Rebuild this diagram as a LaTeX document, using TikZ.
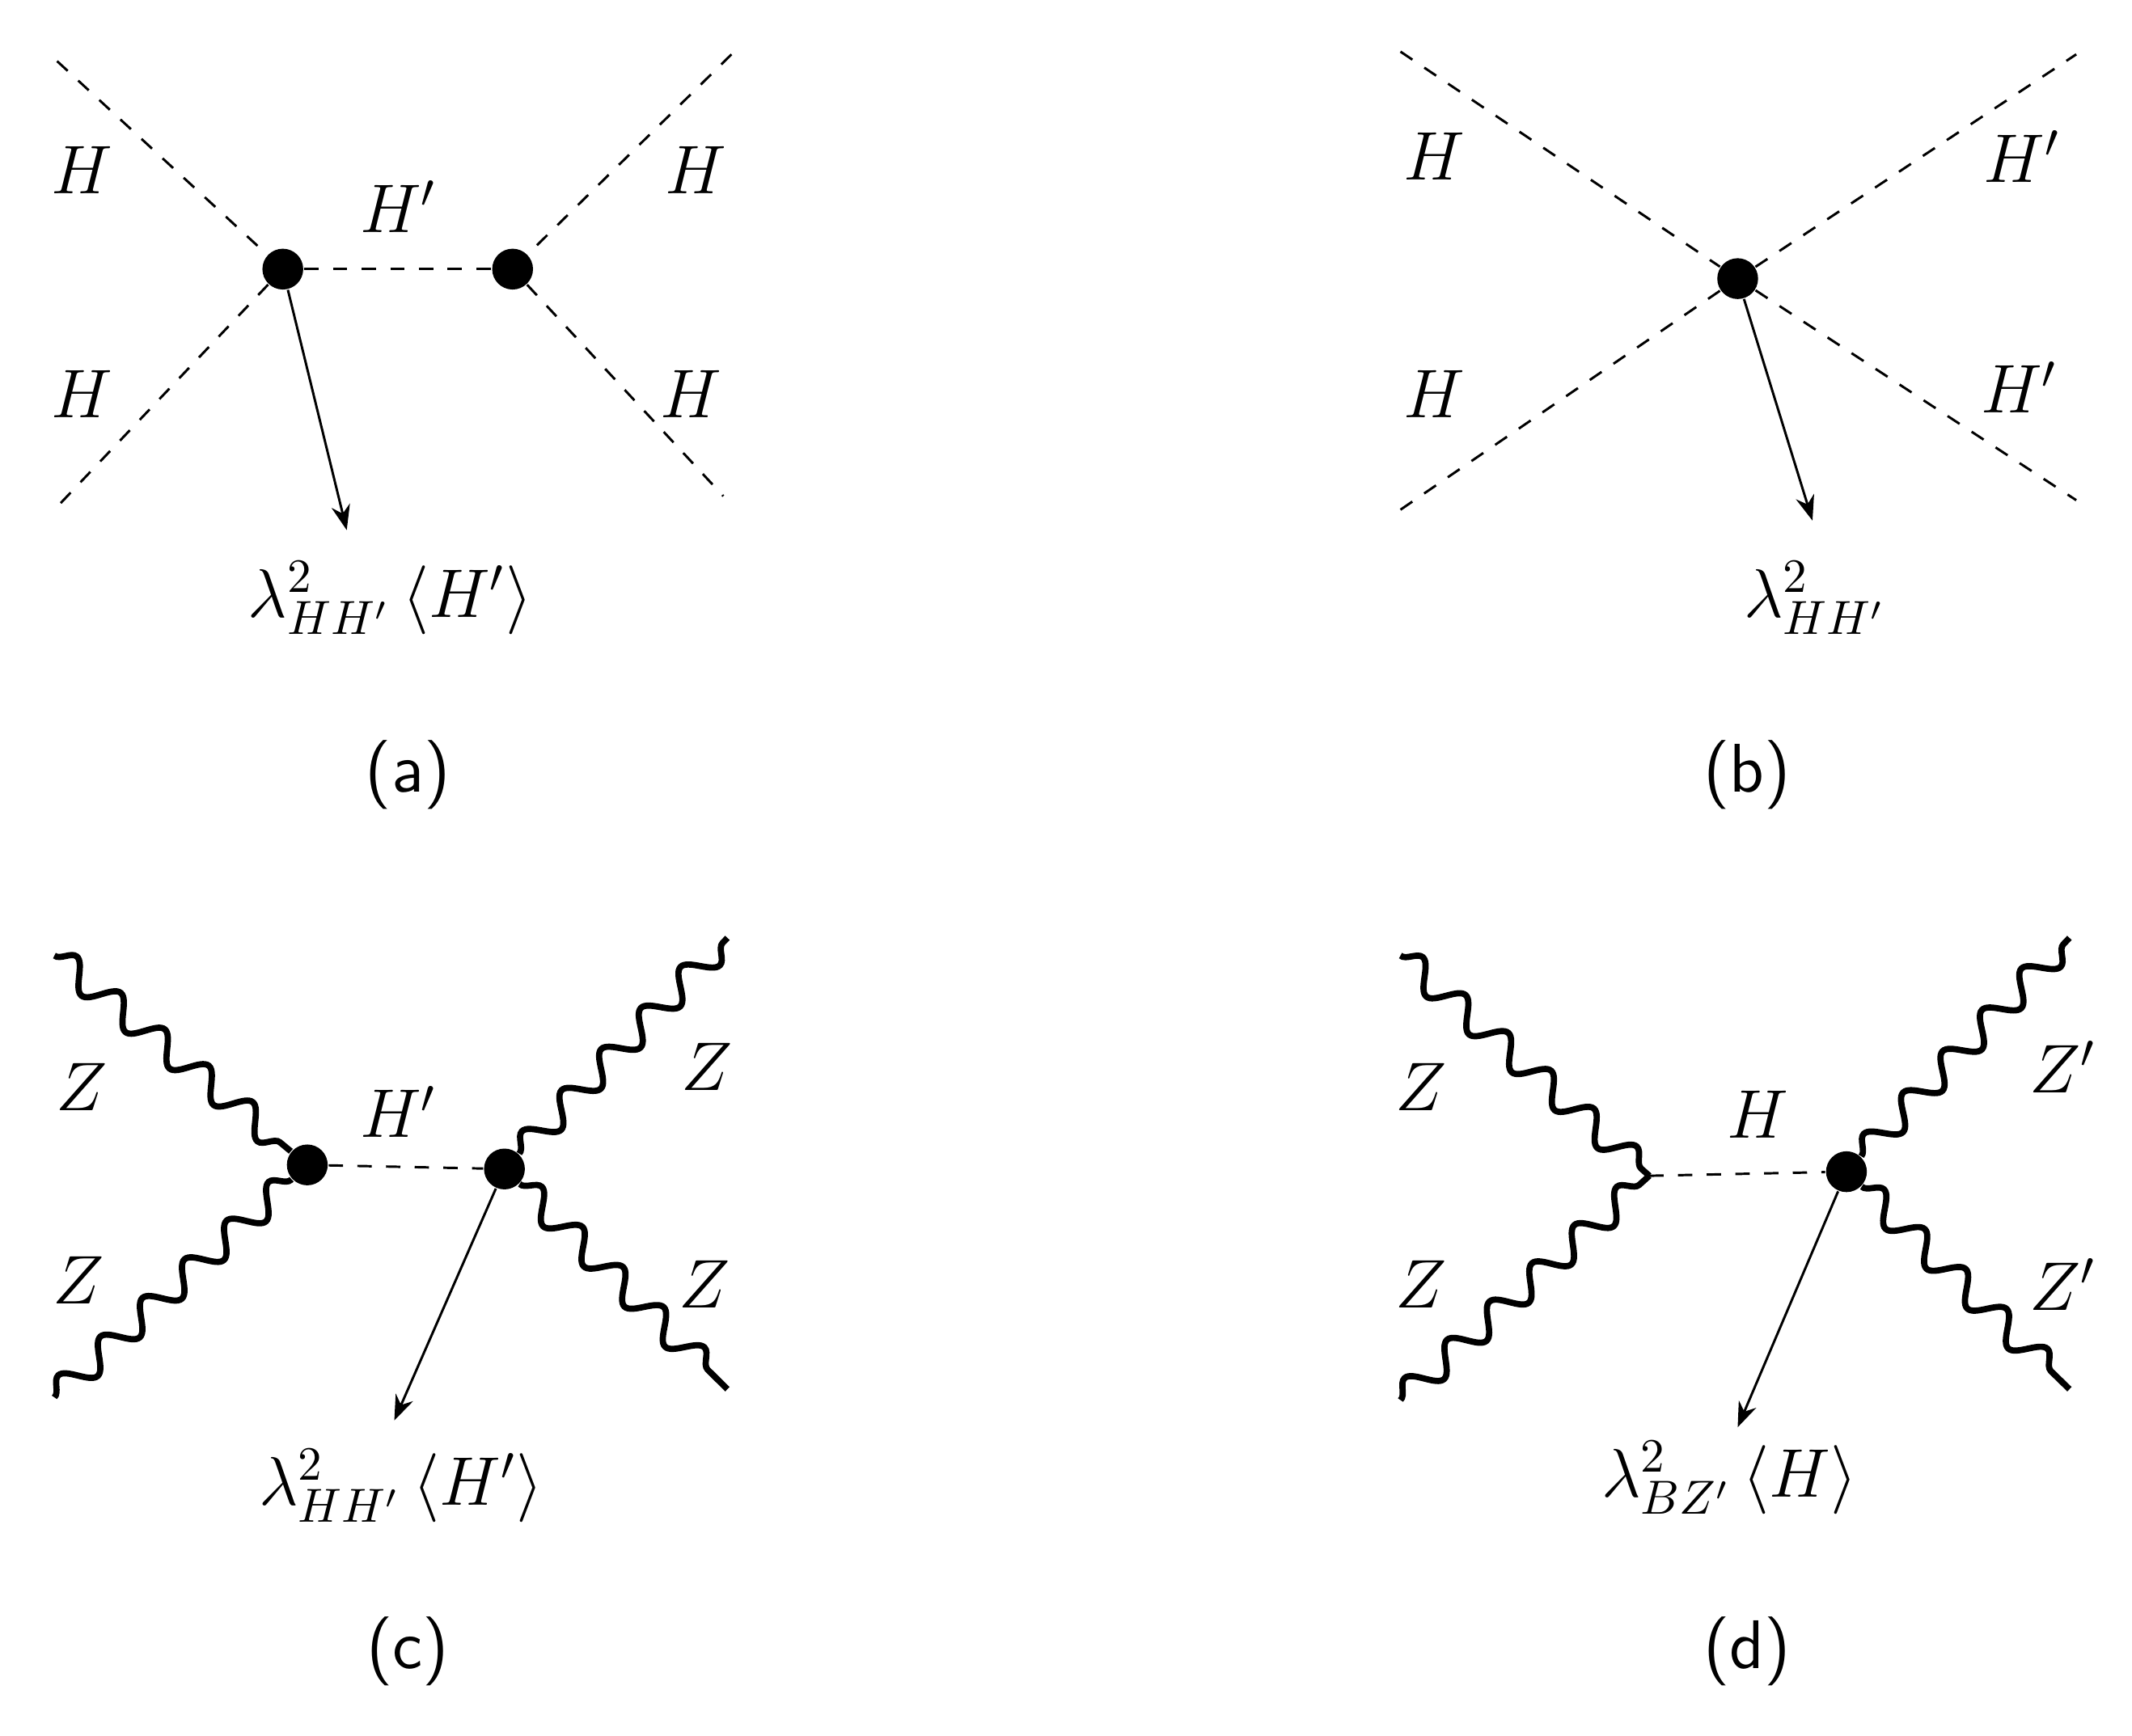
\documentclass[tikz,border=0pt]{standalone}
\usetikzlibrary{decorations.pathmorphing, arrows.meta}
\tikzset{>=Stealth, font=\Large}
\begin{document}
\begin{tikzpicture}[x=0.01cm, y=-0.01cm,
  scalar/.style={dashed, line width=0.5pt},
  boson/.style={line width=1.3pt, decorate,
    decoration={snake, segment length=0.42cm, amplitude=0.1cm}},
  vtx/.style={circle, fill=black, inner sep=0pt, minimum size=0.3cm},
  coup/.style={->, line width=0.5pt},
  lab/.style={font=\sffamily\Large}
]
\useasboundingbox (0,0) rectangle (1568,1277);
%(a)
\node[vtx] (a1) at (208,198) {};
\node[vtx] (a2) at (377,198) {};
\coordinate (aul) at (42,45);  \coordinate (all) at (40,375);
\coordinate (aur) at (538,40); \coordinate (alr) at (532,365);
\draw[scalar] (aul) -- (a1) -- (all);
\draw[scalar] (aur) -- (a2) -- (alr);
\draw[scalar] (a1) -- (a2);
\node (aH1) at (60,125) {$H$};  \node (aH2) at (60,290) {$H$};
\node (aH3) at (512,125) {$H$}; \node (aH4) at (508,290) {$H$};
\node (aHp) at (293,152) {$H'$};
\node (alam) at (287,440) {$\lambda^2_{HH'}\,\langle H'\rangle$};
\coordinate (atip) at (255,390);
\draw[coup] (a1) -- (atip);
\node[lab] (la) at (300,570) {(a)};
%(b)
\node[vtx] (b1) at (1278,205) {};
\coordinate (bul) at (1030,38);  \coordinate (bll) at (1030,375);
\coordinate (bur) at (1527,40);  \coordinate (blr) at (1527,368);
\draw[scalar] (bul) -- (b1) -- (blr);
\draw[scalar] (bll) -- (b1) -- (bur);
\node (bH1) at (1055,115) {$H$};   \node (bH2) at (1055,290) {$H$};
\node (bH3) at (1487,115) {$H'$};  \node (bH4) at (1485,285) {$H'$};
\node (blam) at (1335,440) {$\lambda^2_{HH'}$};
\coordinate (btip) at (1333,383);
\draw[coup] (b1) -- (btip);
\node[lab] (lb) at (1285,570) {(b)};
%(c)
\node[vtx] (c1) at (226,857) {};
\node[vtx] (c2) at (371,860) {};
\coordinate (cul) at (40,703);  \coordinate (cll) at (40,1028);
\coordinate (cur) at (535,690); \coordinate (clr) at (535,1022);
\draw[boson] (cul) -- (c1);
\draw[boson] (cll) -- (c1);
\draw[boson] (c2) -- (cur);
\draw[boson] (c2) -- (clr);
\draw[scalar] (c1) -- (c2);
\node (cZ1) at (60,800) {$Z$};  \node (cZ2) at (58,942) {$Z$};
\node (cZ3) at (520,785) {$Z$}; \node (cZ4) at (518,945) {$Z$};
\node (cHp) at (293,818) {$H'$};
\node (clam) at (295,1093) {$\lambda^2_{HH'}\,\langle H'\rangle$};
\coordinate (ctip) at (290,1045);
\draw[coup] (c2) -- (ctip);
\node[lab] (lc) at (300,1215) {(c)};
%(d)
\coordinate (d1) at (1213,865);
\node[vtx] (d2) at (1358,862) {};
\coordinate (dul) at (1030,703);  \coordinate (dll) at (1030,1030);
\coordinate (dur) at (1522,690);  \coordinate (dlr) at (1522,1022);
\draw[boson] (dul) -- (d1);
\draw[boson] (dll) -- (d1);
\draw[boson] (d2) -- (dur);
\draw[boson] (d2) -- (dlr);
\draw[scalar] (d1) -- (d2);
\node (dZ1) at (1045,800) {$Z$};   \node (dZ2) at (1045,945) {$Z$};
\node (dZ3) at (1517,785) {$Z'$};  \node (dZ4) at (1517,945) {$Z'$};
\node (dH) at (1293,820) {$H$};
\node (dlam) at (1272,1087) {$\lambda^2_{BZ'}\,\langle H\rangle$};
\coordinate (dtip) at (1278,1050);
\draw[coup] (d2) -- (dtip);
\node[lab] (ld) at (1285,1215) {(d)};
\end{tikzpicture}
\end{document}
